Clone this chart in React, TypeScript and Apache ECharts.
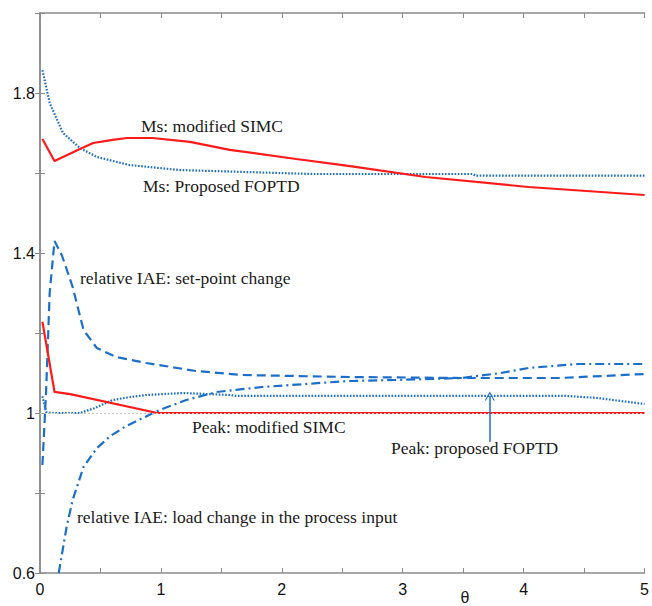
import React, { useEffect, useRef } from "react";
import * as echarts from "echarts";

// Ms: modified SIMC (red solid, upper)
const msSimcTheta = [0.02, 0.12, 0.33, 0.44, 0.6, 0.72, 0.93, 1.24, 1.57, 2.12, 2.55, 3.19, 4.04, 5];
const msSimc = [1.685, 1.63, 1.66, 1.675, 1.683, 1.6875, 1.6875, 1.678, 1.658, 1.635, 1.618, 1.59, 1.565, 1.545];

// Ms: proposed FOPTD (blue dotted, upper)
const msFoptdTheta = [0.02, 0.08, 0.19, 0.33, 0.47, 0.74, 1.15, 1.7, 2.25, 3.58, 3.6, 5];
const msFoptd = [1.857, 1.775, 1.7, 1.6625, 1.64, 1.62, 1.6075, 1.6025, 1.5975, 1.5975, 1.5935, 1.5935];

// relative IAE: set-point change (blue dashed)
const iaeSpTheta = [0.02, 0.05, 0.08, 0.12, 0.18, 0.27, 0.36, 0.47, 0.63, 0.88, 1.29, 1.67, 2.55, 3.5, 4.3, 5];
const iaeSp = [0.87, 1.05, 1.3, 1.43, 1.395, 1.315, 1.2075, 1.1625, 1.14, 1.125, 1.105, 1.095, 1.09, 1.0875, 1.0875, 1.0975];

// relative IAE: load change in the process input (blue dash-dot)
const iaeLoadTheta = [0.155, 0.22, 0.27, 0.36, 0.47, 0.58, 0.7, 0.82, 0.99, 1.21, 1.46, 1.84, 2.55, 2.94, 3.49, 3.81, 4.04, 4.45, 5];
const iaeLoad = [0.6, 0.715, 0.7825, 0.865, 0.912, 0.942, 0.965, 0.983, 1.0075, 1.0325, 1.0525, 1.065, 1.08, 1.0825, 1.0875, 1.1, 1.1125, 1.1225, 1.1225];

// Peak: proposed FOPTD (blue dotted, lower)
const peakFoptdTheta = [0.02, 0.05, 0.1, 0.33, 0.45, 0.6, 0.75, 0.88, 1.18, 1.57, 1.62, 4.34, 4.61, 5];
const peakFoptd = [1.042, 1.0025, 1.0, 1.0, 1.012, 1.0325, 1.04, 1.045, 1.05, 1.045, 1.043, 1.043, 1.0375, 1.0225];

// Peak: modified SIMC (red solid, lower)
const peakSimcTheta = [0.02, 0.12, 0.25, 0.97, 5];
const peakSimc = [1.228, 1.053, 1.047, 1.0, 1.0];

// arrow pointing at the "Peak: proposed FOPTD" curve
const arrowTheta = 3.72;
const arrowFrom = 0.9275;
const arrowTo = 1.0425;

const yLabelValues = [0.6, 1, 1.4, 1.8];
const xLabelValues = [0, 1, 2, 3, 4, 5];

const BLUE = "#1c6fc8";
const RED = "#ff1a1a";
const AXIS = "#8a8a8a";
const SERIF = "'Liberation Serif', 'Times New Roman', serif";
const SANS = "'Liberation Sans', Arial, sans-serif";

const zip = (xs: number[], ys: number[]) => xs.map((x, i) => [x, ys[i]]);

export default function App() {
  const ref = useRef<HTMLDivElement>(null);
  useEffect(() => {
    if (!ref.current) return;
    const chart = echarts.init(ref.current, undefined, { renderer: "svg" });
    const axisCommon = {
      type: "value" as const,
      axisLine: { show: true, lineStyle: { color: AXIS, width: 1.5 } },
      axisTick: { show: true, inside: true, length: 5, lineStyle: { color: AXIS, width: 1 } },
      splitLine: { show: false },
    };
    const lineBase = { type: "line", showSymbol: false, symbol: "none", animation: false, silent: true };
    const txt = (text: string, x: number, y: number) => ({
      type: "text",
      x,
      y,
      style: { text, font: `17.5px ${SERIF}`, fill: "#1a1a1a", verticalAlign: "middle" },
    });
    chart.setOption({
      animation: false,
      backgroundColor: "#ffffff",
      grid: { left: 40, right: 4, top: 13, bottom: 33, containLabel: false },
      xAxis: [
        {
          ...axisCommon,
          min: 0,
          max: 5,
          interval: 0.5,
          position: "bottom",
          axisLabel: {
            color: "#111",
            fontFamily: SANS,
            fontSize: 16,
            margin: 8,
            showMaxLabel: true,
            showMinLabel: true,
            formatter: (v: number) => {
              const r = Math.round(v * 10) / 10;
              return xLabelValues.indexOf(r) >= 0 ? String(r) : "";
            },
          },
        },
        {
          ...axisCommon,
          min: 0,
          max: 5,
          interval: 0.5,
          position: "top",
          axisLabel: { show: false },
        },
      ],
      yAxis: [
        {
          ...axisCommon,
          min: 0.6,
          max: 2.0,
          interval: 0.2,
          position: "left",
          axisLabel: {
            color: "#111",
            fontFamily: SANS,
            fontSize: 16,
            margin: 5,
            formatter: (v: number) => {
              const r = Math.round(v * 10) / 10;
              return yLabelValues.indexOf(r) >= 0 ? String(r) : "";
            },
          },
        },
        {
          ...axisCommon,
          min: 0.6,
          max: 2.0,
          interval: 0.2,
          position: "right",
          axisLabel: { show: false },
        },
      ],
      series: [
        {
          ...lineBase,
          name: "ref",
          data: [],
          markLine: {
            silent: true,
            symbol: ["none", "none"],
            label: { show: false },
            lineStyle: { color: "#c8c8c8", width: 1, type: [2, 2] },
            data: [[{ coord: [0, 1] }, { coord: [5, 1] }]],
          },
          z: 1,
        },
        {
          ...lineBase,
          name: "Ms: modified SIMC",
          data: zip(msSimcTheta, msSimc),
          lineStyle: { color: RED, width: 2.2, type: "solid" },
          z: 3,
        },
        {
          ...lineBase,
          name: "Ms: Proposed FOPTD",
          data: zip(msFoptdTheta, msFoptd),
          lineStyle: { color: BLUE, width: 2.2, type: [1.6, 1.6] },
          z: 2,
        },
        {
          ...lineBase,
          name: "relative IAE: set-point change",
          data: zip(iaeSpTheta, iaeSp),
          lineStyle: { color: BLUE, width: 2.2, type: [9, 5] },
          z: 2,
        },
        {
          ...lineBase,
          name: "relative IAE: load change in the process input",
          data: zip(iaeLoadTheta, iaeLoad),
          lineStyle: { color: BLUE, width: 2.2, type: [9, 4, 2, 4] },
          z: 2,
        },
        {
          ...lineBase,
          name: "Peak: proposed FOPTD",
          data: zip(peakFoptdTheta, peakFoptd),
          lineStyle: { color: BLUE, width: 2.2, type: [1.6, 1.6] },
          z: 2,
          markLine: {
            silent: true,
            symbol: ["none", "path://M0,10 L5,0 L10,10 L8.8,10 L5,2.4 L1.2,10 Z"],
            symbolSize: [10, 9],
            label: { show: false },
            lineStyle: { color: BLUE, width: 1.5, type: "solid" },
            data: [[{ coord: [arrowTheta, arrowFrom] }, { coord: [arrowTheta, arrowTo] }]],
          },
        },
        {
          ...lineBase,
          name: "Peak: modified SIMC",
          data: zip(peakSimcTheta, peakSimc),
          lineStyle: { color: RED, width: 2.2, type: "solid" },
          z: 3,
        },
      ],
      graphic: [
        txt("Ms: modified SIMC", 141, 126),
        txt("Ms: Proposed FOPTD", 143, 186),
        txt("relative IAE: set-point change", 80, 278),
        txt("Peak: modified SIMC", 192, 427),
        txt("Peak: proposed FOPTD", 391, 448),
        txt("relative IAE: load change in the process input", 77, 517),
        { type: "text", x: 465, y: 597, style: { text: "θ", font: `16px ${SANS}`, fill: "#1a1a1a", align: "center", verticalAlign: "middle" } },
      ],
    });
    return () => chart.dispose();
  }, []);
  return (
    <div
      ref={ref}
      style={{ position: "fixed", left: 0, top: 0, width: 652, height: 606, background: "#fff" }}
    />
  );
}
